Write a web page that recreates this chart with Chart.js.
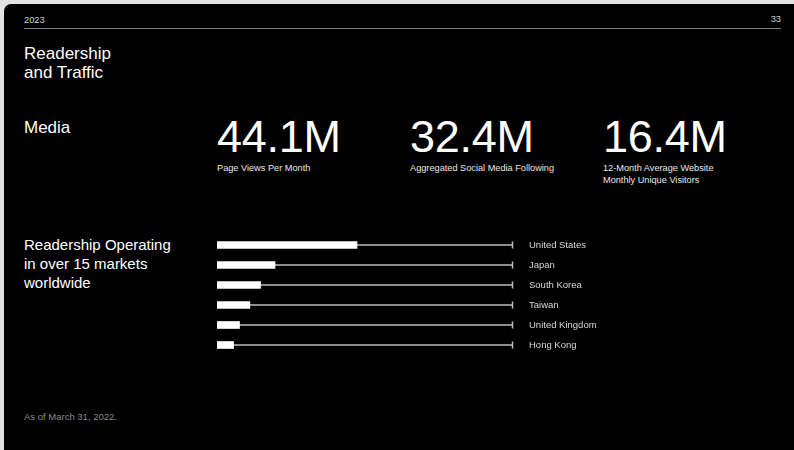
<!DOCTYPE html>
<html>
<head>
<meta charset="utf-8">
<script src="https://cdn.jsdelivr.net/npm/chart.js@4"></script>
<style>
  html, body { margin: 0; padding: 0; }
  body { width: 794px; height: 450px; background: #e3e3e3; overflow: hidden; position: relative;
         font-family: "Liberation Sans", Arial, Helvetica, sans-serif; }
  #panel { position: absolute; left: 4px; top: 4px; width: 800px; height: 460px; background: #000; border-radius: 7px; }
  .abs { position: absolute; white-space: nowrap; }
  #year { left: 24px; top: 15px; font-size: 9.3px; color: #cfcfcf; }
  #page { right: 13px; top: 14px; font-size: 9.3px; color: #cfcfcf; }
  #rule { left: 24px; top: 28px; width: 757px; height: 1px; background: #7a7a7a; }
  #title { left: 24px; top: 44px; font-size: 17px; line-height: 19px; color: #fff; }
  #media { left: 24px; top: 118px; font-size: 17px; color: #fff; }
  #markets { left: 24px; top: 235px; font-size: 15px; line-height: 19px; color: #fff; }
  .stat { position: absolute; top: 112px; color: #fff; }
  .stat .num { font-size: 45px; line-height: 50px; letter-spacing: -0.3px; }
  .stat .lbl { font-size: 9.2px; line-height: 12px; color: #e8e8e8; }
  #note { left: 24px; top: 411px; font-size: 9.5px; color: #8a8a8a; }
  #chart { position: absolute; left: 217px; top: 235px; }
</style>
</head>
<body>
<div id="panel"></div>
<div class="abs" id="year">2023</div>
<div class="abs" id="page">33</div>
<div class="abs" id="rule"></div>
<div class="abs" id="title">Readership<br>and Traffic</div>
<div class="abs" id="media">Media</div>
<div class="abs" id="markets">Readership Operating<br>in over 15 markets<br>worldwide</div>
<div id="stats"></div>
<div class="abs" id="note">As of March 31, 2022.</div>
<canvas id="chart" width="400" height="120"></canvas>

<script>
// ---------- DATA ----------
const statValues = ["44.1M", "32.4M", "16.4M"];
const statLabels = [
  "Page Views Per Month",
  "Aggregated Social Media Following",
  "12-Month Average Website<br>Monthly Unique Visitors"
];
const statLeft = [217, 410, 603];

const markets = ["United States", "Japan", "South Korea", "Taiwan", "United Kingdom", "Hong Kong"];
const share = [47.3, 19.6, 14.7, 11.1, 7.6, 5.6];   // % of readership
const scaleMax = 100;
const track = markets.map(() => scaleMax);

// ---------- STATS ----------
const statsDiv = document.getElementById("stats");
statValues.forEach((v, i) => {
  const d = document.createElement("div");
  d.className = "stat";
  d.style.left = statLeft[i] + "px";
  d.innerHTML = `<div class="num">${v}</div><div class="lbl">${statLabels[i]}</div>`;
  statsDiv.appendChild(d);
});

// ---------- CHART ----------
// small tick at the end of every track line
const endTicks = {
  id: "endTicks",
  afterDatasetsDraw(chart) {
    const { ctx, scales: { x, y } } = chart;
    const px = Math.round(x.getPixelForValue(scaleMax)) - 0.5;
    ctx.save();
    ctx.strokeStyle = "#bdbdbd";
    ctx.lineWidth = 1.5;
    markets.forEach((m, i) => {
      const py = y.getPixelForValue(i);
      ctx.beginPath();
      ctx.moveTo(px, py - 3.5);
      ctx.lineTo(px, py + 3.5);
      ctx.stroke();
    });
    ctx.restore();
  }
};

new Chart(document.getElementById("chart"), {
  type: "bar",
  data: {
    labels: markets,
    datasets: [
      {
        data: share,
        backgroundColor: "#ffffff",
        barThickness: 7,
        grouped: false,
        borderSkipped: false
      },
      {
        data: track,
        backgroundColor: "#bdbdbd",
        barThickness: 1,
        grouped: false
      }
    ]
  },
  options: {
    indexAxis: "y",
    responsive: false,
    animation: false,
    layout: { padding: 0 },
    plugins: { legend: { display: false }, tooltip: { enabled: false } },
    scales: {
      x: { display: false, min: 0, max: scaleMax },
      y: {
        position: "right",
        grid: { display: false, drawTicks: false },
        border: { display: false },
        afterFit(scale) {
          // fixed label column, and no tick-padding added above/below the bars
          scale.width = 400 - 296;
          scale.paddingTop = 0;
          scale.paddingBottom = 0;
        },
        ticks: {
          padding: 16,
          color: "#d6d6d6",
          font: { family: "'Liberation Sans', Arial, sans-serif", size: 9.5 }
        }
      }
    }
  },
  plugins: [endTicks]
});
</script>
</body>
</html>
